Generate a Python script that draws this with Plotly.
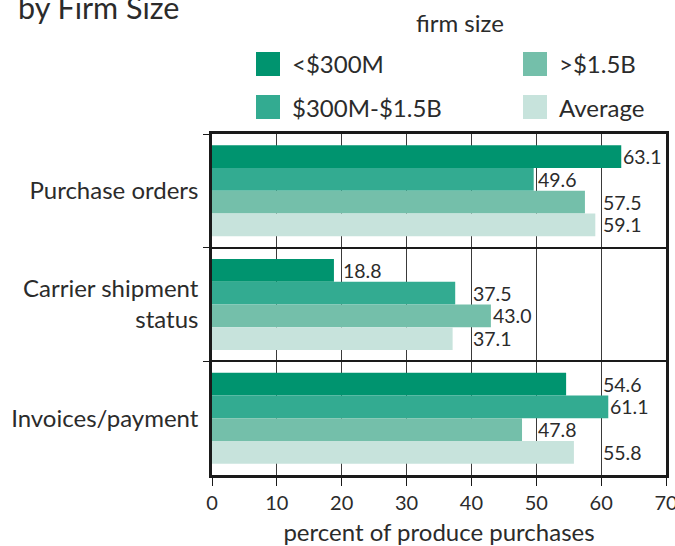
import math
import plotly.graph_objects as go

# Data
categories = ["Purchase orders", "Carrier shipment<br>status", "Invoices/payment"]
series_names = ["<$300M", "$300M-$1.5B", ">$1.5B", "Average"]
series_colors = ["#00946f", "#33ab91", "#74bfaa", "#c7e3dc"]
small_firms = [63.1, 18.8, 54.6]
mid_firms = [49.6, 37.5, 61.1]
large_firms = [57.5, 43.0, 47.8]
average = [59.1, 37.1, 55.8]
series_values = [small_firms, mid_firms, large_firms, average]
x_ticks = [0, 10, 20, 30, 40, 50, 60, 70]

FONT = "Lato"
TEXT = "#2b2b2b"

W, H = 675, 546
M_L, M_R, M_T, M_B = 212, 9, 134, 71
PW, PH = W - M_L - M_R, H - M_T - M_B


def px_x(p):
    return (p - M_L) / PW


def px_y(p):
    return (H - M_B - p) / PH


fig = go.Figure()
for name, color, vals in zip(series_names, series_colors, series_values):
    fig.add_trace(go.Bar(
        y=categories, x=vals, name=name, orientation="h",
        marker=dict(color=color, line=dict(width=0)),
        showlegend=False,
    ))

# value labels, nudged past a nearby gridline
n = len(series_names)
bar_w = 0.8 / n
annotations = []
for i, vals in enumerate(series_values):
    off = -0.4 + bar_w * (i + 0.5)
    for j, v in enumerate(vals):
        nxt = math.ceil(v / 10) * 10
        lx = nxt + 0.3 if nxt - v < 6 else v + 0.4
        annotations.append(dict(
            x=lx, y=j + off, xref="x", yref="y", text=f"{v:.1f}",
            showarrow=False, xanchor="left", yanchor="middle",
            xshift=-1.5, borderpad=0,
            font=dict(family=FONT, size=19.5, color=TEXT),
        ))

# legend block
shapes = []
annotations.append(dict(
    x=px_x(460), y=px_y(22), xref="paper", yref="paper", text="firm size",
    showarrow=False, xanchor="center", yanchor="middle",
    font=dict(family=FONT, size=24, color=TEXT),
))
col_x = [256, 523]
row_y = [52, 95]
for i, (name, color) in enumerate(zip(series_names, series_colors)):
    cx, ry = col_x[i // 2], row_y[i % 2]
    shapes.append(dict(
        type="rect", xref="paper", yref="paper",
        x0=px_x(cx), x1=px_x(cx + 24), y0=px_y(ry + 24), y1=px_y(ry),
        fillcolor=color, line=dict(width=0),
    ))
    annotations.append(dict(
        x=px_x(cx + 34), y=px_y(ry + 12), xref="paper", yref="paper",
        text=name.replace("<", "&lt;").replace(">", "&gt;"),
        showarrow=False, xanchor="left", yanchor="middle",
        font=dict(family=FONT, size=24, color=TEXT),
    ))

# chart title
annotations.append(dict(
    x=px_x(16), y=px_y(7), xref="paper", yref="paper", text="by Firm Size",
    showarrow=False, xanchor="left", yanchor="middle",
    font=dict(family=FONT, size=30.5, color=TEXT),
))

fig.update_layout(
    width=W, height=H,
    margin=dict(l=M_L, r=M_R, t=M_T, b=M_B),
    paper_bgcolor="white", plot_bgcolor="white",
    barmode="group", bargap=0.2, bargroupgap=0,
    showlegend=False,
    font=dict(family=FONT, color=TEXT),
    annotations=annotations, shapes=shapes,
    xaxis=dict(
        range=[0, 70], tickvals=x_ticks, automargin=False,
        ticklabeloverflow="allow",
        showgrid=True, gridcolor="#3a3a3a", gridwidth=1.3,
        showline=True, linecolor="#1a1a1a", linewidth=2.5, mirror=True,
        ticks="outside", ticklen=8, tickcolor="#1a1a1a", tickwidth=1.3,
        tickfont=dict(family=FONT, size=20, color=TEXT),
        title=dict(text="percent of produce purchases",
                   font=dict(family=FONT, size=24, color=TEXT)),
        zeroline=False, fixedrange=True,
    ),
    yaxis=dict(
        autorange="reversed", type="category", automargin=False,
        tickson="boundaries", showgrid=True, gridcolor="#1a1a1a", gridwidth=2,
        showline=True, linecolor="#1a1a1a", linewidth=2.5, mirror=True,
        ticks="outside", ticklen=6, tickcolor="#1a1a1a", tickwidth=1.3,
        tickfont=dict(family=FONT, size=24, color=TEXT),
        ticklabelstandoff=6,
        zeroline=False, fixedrange=True,
    ),
)

fig.write_html("out.html")
